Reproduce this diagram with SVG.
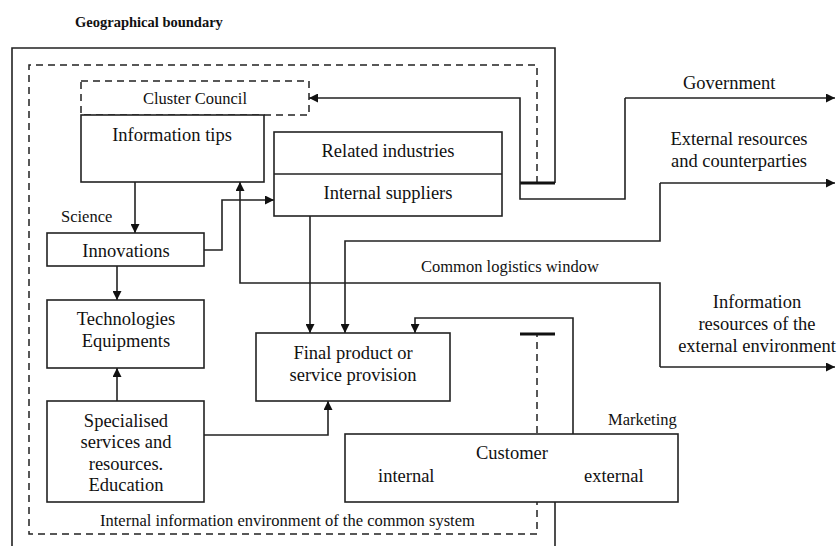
<svg xmlns="http://www.w3.org/2000/svg" width="837" height="546" viewBox="0 0 837 546" font-family="'Liberation Serif', 'Times New Roman', Tinos, 'DejaVu Serif', 'Noto Serif', serif">
<style>
text{font-family:"Liberation Serif","Times New Roman",Tinos,"DejaVu Serif","Noto Serif",serif;fill:#111}
.b{font-size:18.5px}
.s{font-size:16.5px}
.m{text-anchor:middle}
.box{fill:#fff;stroke:#222;stroke-width:1.6}
.ln{fill:none;stroke:#222;stroke-width:1.6}
.dash{fill:none;stroke:#222;stroke-width:1.5;stroke-dasharray:7 5}
.thick{stroke:#111;stroke-width:3.2}
</style>
<defs>
<marker id="ah" viewBox="0 0 10 10" refX="10" refY="5" markerWidth="10" markerHeight="9" markerUnits="userSpaceOnUse" orient="auto">
<path d="M0,0 L10,5 L0,10 Z" fill="#111"/>
</marker>
</defs>
<rect width="837" height="546" fill="#fff"/>

<g id="boundaries">
<text x="75" y="27" style="font-size:14.5px;font-weight:bold">Geographical boundary</text>
<path class="ln" d="M12,546 L12,48 L555,48 L555,183"/>
<path class="ln" d="M555,502 L555,546"/>
<path class="dash" d="M537,183 L537,65 L29,65 L29,534 L537,534 L537,334"/>
<text class="s" x="100" y="526">Internal information environment of the common system</text>
</g>

<g id="connectors">
<line class="thick" x1="520" y1="183" x2="555" y2="183"/>
<line class="thick" x1="520" y1="334" x2="555" y2="334"/>
<path class="ln" d="M625,98 L625,199 L520,199 L520,98 L309,98" marker-end="url(#ah)"/>
<path class="ln" d="M625,98 L835,98" marker-end="url(#ah)"/>
<path class="ln" d="M135,182 L135,233" marker-end="url(#ah)"/>
<path class="ln" d="M204,250 L222,250 L222,200 L274,200" marker-end="url(#ah)"/>
<path class="ln" d="M660,367 L660,283 L240,283 L240,182" marker-end="url(#ah)"/>
<path class="ln" d="M660,367 L835,367" marker-end="url(#ah)"/>
<path class="ln" d="M660,183 L660,241 L345,241 L345,333" marker-end="url(#ah)"/>
<path class="ln" d="M660,183 L835,183" marker-end="url(#ah)"/>
<path class="ln" d="M310,216 L310,333" marker-end="url(#ah)"/>
<path class="ln" d="M573,434 L573,318 L415,318 L415,333" marker-end="url(#ah)"/>
<path class="ln" d="M117,266 L117,300" marker-end="url(#ah)"/>
<path class="ln" d="M117,401 L117,368" marker-end="url(#ah)"/>
<path class="ln" d="M204,435 L328,435 L328,401" marker-end="url(#ah)"/>
<text class="s" x="421" y="272">Common logistics window</text>
<text class="b" x="683" y="89">Government</text>
<text class="b m" x="739" y="145">External resources</text>
<text class="b m" x="739" y="167">and counterparties</text>
<text class="b m" x="757" y="308">Information</text>
<text class="b m" x="757" y="330">resources of the</text>
<text class="b m" x="757" y="352">external environment</text>
</g>

<g id="cluster-council">
<rect x="81" y="81" width="228" height="34" fill="#fff" class="dash"/>
<text class="s m" x="195" y="104">Cluster Council</text>
</g>

<g id="information-tips">
<rect class="box" x="81" y="115" width="183" height="67"/>
<text class="b m" x="172" y="141">Information tips</text>
</g>

<g id="related-industries">
<rect class="box" x="274" y="132" width="228" height="84"/>
<line class="ln" x1="274" y1="174" x2="502" y2="174"/>
<text class="b m" x="388" y="157">Related industries</text>
<text class="b m" x="388" y="199">Internal suppliers</text>
</g>

<g id="innovations">
<text class="s" x="61" y="222">Science</text>
<rect class="box" x="47" y="233" width="157" height="33"/>
<text class="b m" x="126" y="257">Innovations</text>
</g>

<g id="technologies">
<rect class="box" x="47" y="300" width="157" height="68"/>
<text class="b m" x="126" y="325">Technologies</text>
<text class="b m" x="126" y="347">Equipments</text>
</g>

<g id="specialised">
<rect class="box" x="47" y="401" width="157" height="101"/>
<text class="b m" x="126" y="427">Specialised</text>
<text class="b m" x="126" y="448">services and</text>
<text class="b m" x="126" y="470">resources.</text>
<text class="b m" x="126" y="491">Education</text>
</g>

<g id="final-product">
<rect class="box" x="256" y="333" width="194" height="68"/>
<text class="b m" x="353" y="359">Final product or</text>
<text class="b m" x="353" y="381">service provision</text>
</g>

<g id="customer">
<text class="s" x="608" y="425">Marketing</text>
<rect class="box" x="345" y="434" width="333" height="68"/>
<text class="b m" x="512" y="459">Customer</text>
<text class="b" x="378" y="482">internal</text>
<text class="b" x="584" y="482">external</text>
</g>
</svg>
